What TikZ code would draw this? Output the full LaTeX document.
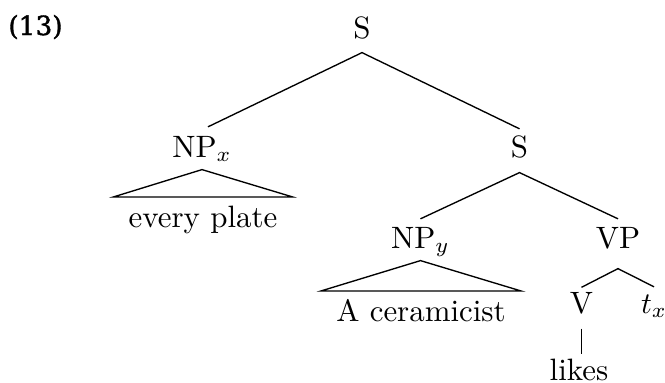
\documentclass[tikz,border=0pt]{standalone}
\usepackage{fontspec}
\newfontfamily\numfont[FakeBold=1.5]{DejaVu Serif}
\begin{document}
\begin{tikzpicture}[x=0.33333pt,y=-0.33333pt,
  every node/.style={font=\fontsize{10.3}{12}\selectfont},
  cat/.style={anchor=base,inner sep=0pt,text height=7.03pt,text depth=0pt},
  word/.style={anchor=base,inner sep=0pt,text height=7.15pt,text depth=0pt},
  tri/.style={anchor=base,inner ysep=2.67pt,text height=7.15pt,text depth=0pt},
  edge/.style={line width=0.45pt,line join=miter}]
\useasboundingbox (0,0) rectangle (665,382);
\node[anchor=base,inner sep=0pt,font=\numfont\fontsize{8.8}{10}\selectfont] (num) at (35.5,35) {(13)};
\node[cat] (S1) at (362,38) {S};
\node[cat] (NPx) at (202,157) {NP$_x$};
\node[cat] (S2) at (519.5,157) {S};
\node[tri,inner xsep=4.9pt] (ev) at (203,227) {every plate};
\node[cat] (NPy) at (420.5,248) {NP$_y$};
\node[cat] (VP) at (618,248) {VP};
\node[tri,inner xsep=4.9pt] (cer) at (421,321) {A ceramicist};
\node[cat] (V) at (581.5,313) {V};
\node[cat] (tx) at (654,313) {$t_x$};
\node[word] (likes) at (579,380) {likes};
% branches
\draw[edge] ([xshift=2pt,yshift=2.83pt]NPx.north) -- ([yshift=-4.67pt]S1.south) -- ([yshift=2.17pt]S2.north);
\draw[edge] ([yshift=2.5pt]NPy.north) -- ([yshift=-5pt]S2.south) -- ([yshift=2.5pt]VP.north);
\draw[edge] ([yshift=1.33pt]V.north) -- ([yshift=-6.67pt]VP.south) -- ([yshift=1.5pt]tx.north);
\draw[edge] ([yshift=-5pt]V.south) -- ([yshift=1.33pt]V.south |- likes.north);
% triangles
\draw[edge] (ev.north west) -- ([yshift=-4pt]NPx.south) -- (ev.north east) -- cycle;
\draw[edge] (cer.north west) -- ([yshift=-4pt]NPy.south) -- (cer.north east) -- cycle;
\end{tikzpicture}
\end{document}
